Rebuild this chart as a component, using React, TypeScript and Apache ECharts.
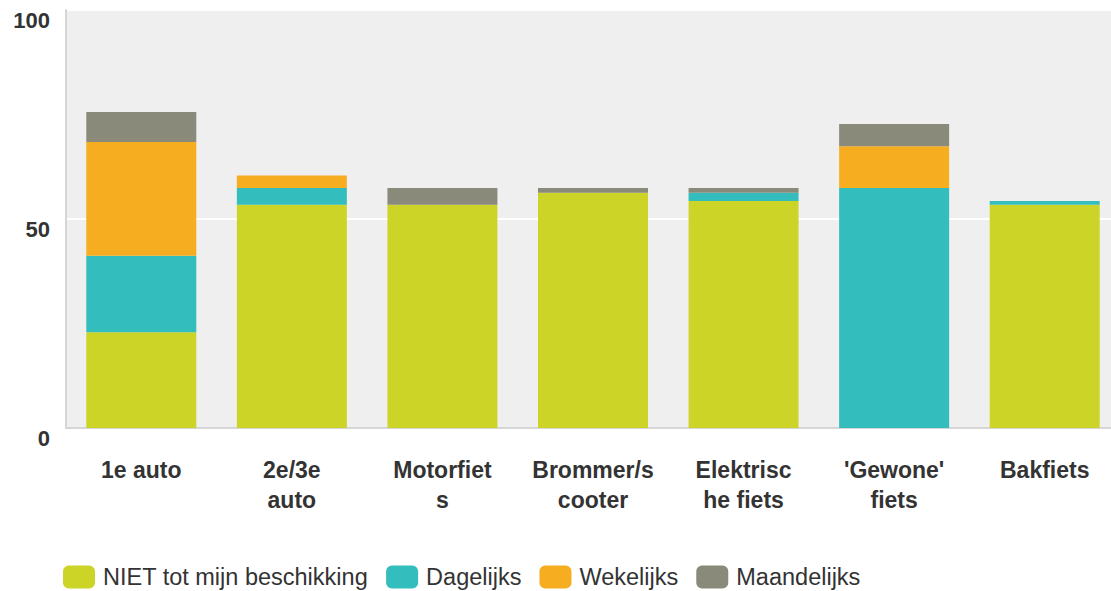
import React, { useEffect, useRef } from "react";
import * as echarts from "echarts";

const categories = [
  "1e auto",
  "2e/3e\nauto",
  "Motorfiet\ns",
  "Brommer/s\ncooter",
  "Elektrisc\nhe fiets",
  "'Gewone'\nfiets",
  "Bakfiets",
];
const seriesNames = ["NIET tot mijn beschikking", "Dagelijks", "Wekelijks", "Maandelijks"];
const niet = [22.9, 53.4, 53.4, 56.3, 54.3, 0, 53.4];
const dagelijks = [18.3, 4.0, 0, 0, 2.0, 57.4, 0.9];
const wekelijks = [27.2, 3.0, 0, 0, 0, 10.0, 0];
const maandelijks = [7.2, 0, 4.0, 1.1, 1.1, 5.3, 0];
const yTicks = [0, 50, 100];

const colors = ["#cdd428", "#33bdbd", "#f6ad1f", "#8a8a7a"];
const FONT = "'Liberation Sans', Arial, sans-serif";

export default function App() {
  const ref = useRef<HTMLDivElement>(null);
  useEffect(() => {
    if (!ref.current) return;
    const chart = echarts.init(ref.current, undefined, { renderer: "svg" });
    const data = [niet, dagelijks, wekelijks, maandelijks];
    chart.setOption({
      animation: false,
      color: colors,
      grid: {
        left: 66,
        right: 0,
        top: 10,
        bottom: 163,
        show: true,
        backgroundColor: "#efefef",
        borderWidth: 0,
      },
      legend: {
        left: 63,
        top: 565,
        padding: 0,
        itemWidth: 32,
        itemHeight: 23,
        itemGap: 18,
        icon: "roundRect",
        textStyle: {
          fontFamily: FONT,
          fontSize: 23.5,
          lineHeight: 23,
          color: "#333",
          padding: [0, 0, 0, 3],
        },
        data: seriesNames,
      },
      xAxis: {
        type: "category",
        data: categories,
        axisLine: { show: true, lineStyle: { color: "#d6d6d6", width: 2 } },
        axisTick: { show: false },
        axisLabel: {
          fontFamily: FONT,
          fontSize: 23,
          fontWeight: "bold",
          color: "#333",
          margin: 27,
          lineHeight: 30,
          interval: 0,
        },
      },
      yAxis: {
        type: "value",
        min: 0,
        max: 100,
        interval: 50,
        axisLine: { show: true, lineStyle: { color: "#d6d6d6", width: 2 } },
        axisTick: { show: false },
        splitLine: { show: true, lineStyle: { color: "#ffffff", width: 2 } },
        axisLabel: {
          fontFamily: FONT,
          fontSize: 22,
          fontWeight: "bold",
          color: "#333",
          margin: 16,
          verticalAlign: "top",
          lineHeight: 20,
          formatter: (v: number) => (yTicks.includes(v) ? String(v) : ""),
        },
      },
      series: seriesNames.map((name, i) => ({
        name,
        type: "bar",
        stack: "total",
        data: data[i],
        barWidth: 110,
        itemStyle: { color: colors[i] },
      })),
    });
    return () => chart.dispose();
  }, []);
  return (
    <div
      style={{
        position: "absolute",
        left: 0,
        top: 0,
        width: 1111,
        height: 591,
        overflow: "hidden",
      }}
    >
      <div ref={ref} style={{ width: 1120, height: 591 }} />
    </div>
  );
}
